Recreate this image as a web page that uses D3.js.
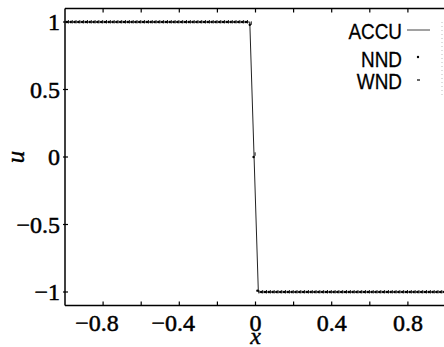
<!DOCTYPE html>
<html>
<head>
<meta charset="utf-8">
<script src="https://cdn.jsdelivr.net/npm/d3@7"></script>
<style>
  html, body { margin: 0; padding: 0; background: #fff; }
  svg { display: block; }
</style>
</head>
<body>
<svg id="chart" width="444" height="347"></svg>
<script>
// Riemann problem: step from u = 1 to u = -1 at x = 0
const seriesNames = ["ACCU", "NND", "WND"];

// reference solution (polyline)
const accuX = [-1, -0.03, 0.015, 1];
const accuU = [1, 1, -1, -1];

// 100 cell centres on [-1, 1]
const cellCount = 100;
const meshX = d3.range(cellCount).map(i => -0.99 + 0.02 * i);

const nndU = [
  1, 1, 1, 1, 1, 1, 1, 1, 1, 1, 1, 1,
  1, 1, 1, 1, 1, 1, 1, 1, 1, 1, 1, 1,
  1, 1, 1, 1, 1, 1, 1, 1, 1, 1, 1, 1,
  1, 1, 1, 1, 1, 1, 1, 1, 1, 1, 1, 1,
  0.98, 0.0, -0.99,
  -1, -1, -1, -1, -1, -1, -1, -1, -1, -1, -1, -1,
  -1, -1, -1, -1, -1, -1, -1, -1, -1, -1, -1, -1,
  -1, -1, -1, -1, -1, -1, -1, -1, -1, -1, -1, -1,
  -1, -1, -1, -1, -1, -1, -1, -1, -1, -1, -1, -1, -1
];
const wndU = [
  1, 1, 1, 1, 1, 1, 1, 1, 1, 1, 1, 1,
  1, 1, 1, 1, 1, 1, 1, 1, 1, 1, 1, 1,
  1, 1, 1, 1, 1, 1, 1, 1, 1, 1, 1, 1,
  1, 1, 1, 1, 1, 1, 1, 1, 1, 1, 1, 1,
  0.99, 0.02, -1,
  -1, -1, -1, -1, -1, -1, -1, -1, -1, -1, -1, -1,
  -1, -1, -1, -1, -1, -1, -1, -1, -1, -1, -1, -1,
  -1, -1, -1, -1, -1, -1, -1, -1, -1, -1, -1, -1,
  -1, -1, -1, -1, -1, -1, -1, -1, -1, -1, -1, -1, -1
];

const xTicks = [-0.8, -0.6, -0.4, -0.2, 0, 0.2, 0.4, 0.6, 0.8];
const xTickLabels = [-0.8, -0.4, 0, 0.4, 0.8];
const yTicks = [-1, -0.5, 0, 0.5, 1];

const svg = d3.select("#chart");
const x = d3.scaleLinear().domain([-1, 1]).range([65, 446]);
const y = d3.scaleLinear().domain([-1.1, 1.1]).range([305.5, 8.5]);

const fmt = v => (v < 0 ? "\u2212" : "") + String(Math.abs(v));
const serif = "'Liberation Serif', 'Times New Roman', serif";

// frame: left, top, bottom
const frame = svg.append("g").attr("stroke", "#000").attr("stroke-width", 1.5).attr("fill", "none");
frame.append("line").attr("x1", x(-1)).attr("x2", x(-1)).attr("y1", y(1.1)).attr("y2", y(-1.1));
frame.append("line").attr("x1", x(-1)).attr("x2", 444).attr("y1", y(1.1)).attr("y2", y(1.1));
frame.append("line").attr("x1", x(-1)).attr("x2", 444).attr("y1", y(-1.1)).attr("y2", y(-1.1));

// inward ticks
const ticks = svg.append("g").attr("stroke", "#000").attr("stroke-width", 1.2);
xTicks.forEach(t => {
  ticks.append("line").attr("x1", x(t)).attr("x2", x(t)).attr("y1", y(-1.1)).attr("y2", y(-1.1) - 4);
  ticks.append("line").attr("x1", x(t)).attr("x2", x(t)).attr("y1", y(1.1)).attr("y2", y(1.1) + 4);
});
yTicks.forEach(t => {
  ticks.append("line").attr("x1", x(-1) - 2).attr("x2", x(-1) + 3).attr("y1", y(t)).attr("y2", y(t));
});

// tick labels
svg.append("g").selectAll("text").data(xTickLabels).join("text")
  .attr("x", d => x(d) + (d < 0 ? -6 : 0))
  .attr("y", 331)
  .attr("text-anchor", "middle")
  .attr("font-family", serif)
  .attr("font-size", 24)
  .attr("stroke", "#000").attr("stroke-width", 0.5)
  .text(fmt);

svg.append("g").selectAll("text").data(yTicks).join("text")
  .attr("x", 60)
  .attr("y", d => y(d) + 8)
  .attr("text-anchor", "end")
  .attr("font-family", serif)
  .attr("font-size", 24)
  .attr("stroke", "#000").attr("stroke-width", 0.5)
  .text(fmt);

// axis titles
svg.append("text")
  .attr("x", x(0)).attr("y", 344)
  .attr("text-anchor", "middle")
  .attr("font-family", serif).attr("font-style", "italic").attr("font-size", 24)
  .attr("stroke", "#000").attr("stroke-width", 0.4)
  .text("x");
svg.append("text")
  .attr("transform", `translate(24,${y(0)}) rotate(-90)`)
  .attr("text-anchor", "middle")
  .attr("font-family", serif).attr("font-style", "italic").attr("font-size", 25)
  .attr("stroke", "#000").attr("stroke-width", 0.4)
  .text("u");

// reference solution line
const accuPts = accuX.map((v, i) => [v, accuU[i]]);
svg.append("path")
  .attr("d", d3.line().x(d => x(d[0])).y(d => y(d[1]))(accuPts))
  .attr("fill", "none").attr("stroke", "#222").attr("stroke-width", 1);

// NND: small dots
svg.append("g").selectAll("circle").data(meshX.map((v, i) => [v, nndU[i]])).join("circle")
  .attr("cx", d => x(d[0])).attr("cy", d => y(d[1])).attr("r", 1.2).attr("fill", "#000");

// WND: short vertical dashes
svg.append("g").attr("stroke", "#000").attr("stroke-width", 0.9)
  .selectAll("line").data(meshX.map((v, i) => [v, wndU[i]])).join("line")
  .attr("x1", d => x(d[0]) + 1.5).attr("x2", d => x(d[0]) + 1.5)
  .attr("y1", d => y(d[1]) - 2).attr("y2", d => y(d[1]) + 1.5);

// legend
const legendY = [39, 67, 89];
const leg = svg.append("g");
seriesNames.forEach((name, i) => {
  leg.append("text")
    .attr("transform", `translate(402,${legendY[i]}) scale(0.86,1)`)
    .attr("text-anchor", "end")
    .attr("font-family", "'Liberation Sans', Arial, sans-serif")
    .attr("font-size", 22)
    .attr("stroke", "#000").attr("stroke-width", 0.3)
    .text(name);
});
leg.append("line").attr("x1", 407).attr("x2", 430).attr("y1", 30).attr("y2", 30)
  .attr("stroke", "#444").attr("stroke-width", 1);
leg.append("circle").attr("cx", 418).attr("cy", 57).attr("r", 1.2).attr("fill", "#000");
leg.append("line").attr("x1", 417).attr("x2", 420).attr("y1", 80).attr("y2", 80)
  .attr("stroke", "#000").attr("stroke-width", 1.2);
leg.append("line").attr("x1", 442).attr("x2", 442).attr("y1", 22).attr("y2", 97)
  .attr("stroke", "#bbb").attr("stroke-width", 1).attr("stroke-dasharray", "1,3");
</script>
</body>
</html>
